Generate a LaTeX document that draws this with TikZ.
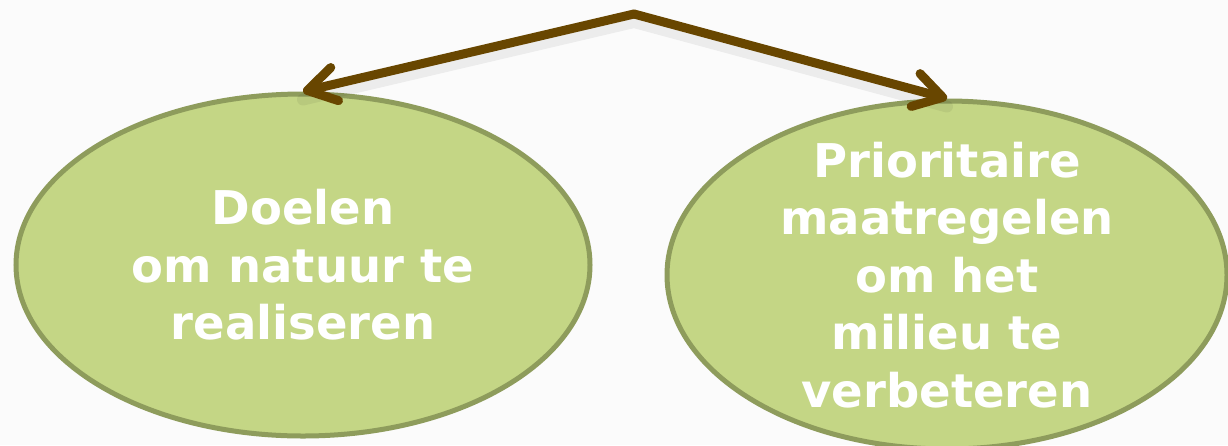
\documentclass[tikz,border=0pt]{standalone}
\usepackage{fontspec}
\setmainfont{DejaVu Sans}
\newfontfamily\lblfont{DejaVu Sans}
\usetikzlibrary{shapes.geometric,arrows.meta}
\definecolor{bgc}{RGB}{251,251,251}
\definecolor{ellfill}{RGB}{196,214,133}
\definecolor{elledge}{RGB}{142,156,92}
\definecolor{arrowc}{RGB}{104,70,0}
\tikzset{
  bubble/.style={ellipse, draw=elledge, fill=ellfill, line width=5pt, inner sep=0pt},
  bubbletext/.style={inner sep=0pt, text=white, align=center,
    font=\lblfont\bfseries\fontsize{46.5}{57.5}\selectfont},
  link/.style={draw=arrowc, line width=9pt, line cap=round, line join=round,
    -{Straight Barb[length=28pt, width=34pt, round]}},
  linkshadow/.style={draw=black, opacity=0.06, line width=12pt, line cap=round}
}
\begin{document}
\begin{tikzpicture}[x=1pt,y=-1pt]
  \fill[bgc] (0,0) rectangle (1228,445);
  \useasboundingbox (0,0) rectangle (1228,445);
  \node[bubble, minimum width=574pt, minimum height=342pt] (L) at (303,265) {};
  \node[bubbletext] (Lt) at (L.center) {Doelen\\om natuur te\\realiseren};
  \node[bubble, minimum width=560pt, minimum height=348pt] (R) at (947,275) {};
  \node[bubbletext] (Rt) at (R.center)
    {Prioritaire\\maatregelen\\om het\\milieu te\\verbeteren};
  \coordinate (apex) at (634,14);
  \coordinate (apexs) at (634,22);
  \coordinate (Ls) at ([yshift=-8pt]L.north);
  \coordinate (Rs) at ([yshift=-8pt]R.north);
  \draw[linkshadow] (Ls) -- (apexs) -- (Rs);
  \draw[link] (apex) -- (L.north);
  \draw[link] (apex) -- (R.north);
\end{tikzpicture}
\end{document}
